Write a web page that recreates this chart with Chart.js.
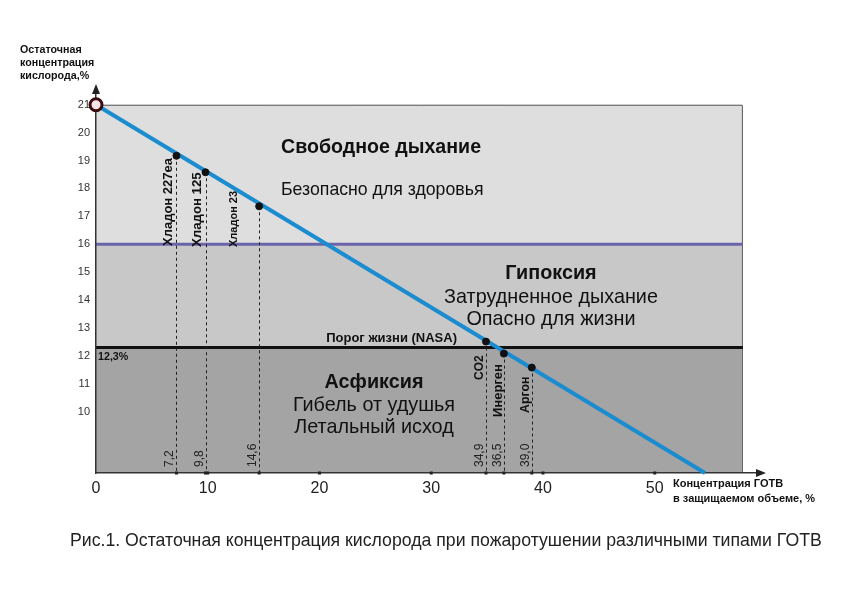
<!DOCTYPE html>
<html>
<head>
<meta charset="utf-8">
<script src="https://cdn.jsdelivr.net/npm/chart.js@4"></script>
<style>
html,body{margin:0;padding:0;background:#fff;}
#wrap{position:relative;width:842px;height:595px;}
canvas{display:block;}
</style>
</head>
<body>
<div id="wrap"><canvas id="c" width="842" height="595"></canvas></div>
<script>
// ---- data ----
const agents = ['Хладон 227ea', 'Хладон 125', 'Хладон 23', 'CO2', 'Инерген', 'Аргон'];
const agentConc = [7.2, 9.8, 14.6, 34.9, 36.5, 39.0];
const agentConcLabels = ['7,2', '9,8', '14,6', '34,9', '36,5', '39,0'];
const agentO2 = [19.17, 18.58, 17.36, 12.51, 12.08, 11.58];
const lineConc = [0, 54.5];
const lineO2 = [21, 7.8];
const xTicks = [0, 10, 20, 30, 40, 50];
const yTicks = [10, 11, 12, 13, 14, 15, 16, 17, 18, 19, 20, 21];
const zoneBounds = [21, 16, 12.3, 7.8];   // free breathing / hypoxia / asphyxia
const zoneRightConc = 57.8;
const nasaThreshold = 12.3;
const hypoxiaLimit = 16;

const FONT = '"Liberation Sans", Arial, sans-serif';

// label style offsets (pixels) relative to each agent point
const agentLabelStyle = [
  {dx: -4.5, y: 246, size: 13},
  {dx: -5, y: 247, size: 13.2},
  {dx: -22, y: 247, size: 11},
  {dx: -3, y: 380, size: 12},
  {dx: -2, y: 417, size: 13},
  {dx: -3, y: 413, size: 12.4}
];

function vtext(ctx, text, x, y, font, color) {
  ctx.save();
  ctx.translate(x, y);
  ctx.rotate(-Math.PI / 2);
  ctx.font = font;
  ctx.fillStyle = color || '#111';
  ctx.textAlign = 'left';
  ctx.textBaseline = 'alphabetic';
  ctx.fillText(text, 0, 0);
  ctx.restore();
}

const decor = {
  id: 'decor',
  beforeDraw(chart) {
    const ctx = chart.ctx, xs = chart.scales.x, ys = chart.scales.y;
    const x0 = xs.getPixelForValue(0), x1 = xs.getPixelForValue(zoneRightConc);
    const colors = ['#dedede', '#c8c8c8', '#a4a4a4'];
    ctx.save();
    for (let i = 0; i < 3; i++) {
      const yt = ys.getPixelForValue(zoneBounds[i]), yb = ys.getPixelForValue(zoneBounds[i + 1]);
      ctx.fillStyle = colors[i];
      ctx.fillRect(x0, yt, x1 - x0, yb - yt);
    }
    // outline
    ctx.strokeStyle = '#555';
    ctx.lineWidth = 1;
    const yTop = ys.getPixelForValue(zoneBounds[0]), yBot = ys.getPixelForValue(zoneBounds[3]);
    ctx.beginPath();
    ctx.moveTo(x0, yTop + 0.5); ctx.lineTo(x1 + 0.5, yTop + 0.5); ctx.lineTo(x1 + 0.5, yBot);
    ctx.stroke();
    // hypoxia line
    let y16 = ys.getPixelForValue(hypoxiaLimit);
    ctx.strokeStyle = '#6c64aa'; ctx.lineWidth = 3;
    ctx.beginPath(); ctx.moveTo(x0, y16); ctx.lineTo(x1 + 1, y16); ctx.stroke();
    // NASA line
    let yN = ys.getPixelForValue(nasaThreshold);
    ctx.strokeStyle = '#111'; ctx.lineWidth = 3;
    ctx.beginPath(); ctx.moveTo(x0, yN); ctx.lineTo(x1 + 1, yN); ctx.stroke();
    // drop lines
    ctx.strokeStyle = '#222'; ctx.lineWidth = 1; ctx.setLineDash([3, 3]);
    for (let i = 0; i < agentConc.length; i++) {
      const px = Math.round(xs.getPixelForValue(agentConc[i])) + 0.5;
      ctx.beginPath(); ctx.moveTo(px, ys.getPixelForValue(agentO2[i])); ctx.lineTo(px, yBot); ctx.stroke();
    }
    ctx.restore();
  },
  afterDraw(chart) {
    const ctx = chart.ctx, xs = chart.scales.x, ys = chart.scales.y;
    const x0 = xs.getPixelForValue(0);
    const yBot = ys.getPixelForValue(zoneBounds[3]);
    const left = chart.chartArea.left, top = chart.chartArea.top, right = chart.chartArea.right, bottom = chart.chartArea.bottom;
    ctx.save();
    // arrows
    ctx.fillStyle = '#222';
    ctx.beginPath(); ctx.moveTo(left, top - 4); ctx.lineTo(left - 4, top + 6); ctx.lineTo(left + 4, top + 6); ctx.closePath(); ctx.fill();
    ctx.beginPath(); ctx.moveTo(right + 4, bottom); ctx.lineTo(right - 6, bottom - 4); ctx.lineTo(right - 6, bottom + 4); ctx.closePath(); ctx.fill();
    // axis dots
    const dots = xTicks.slice(1).concat(agentConc);
    dots.forEach(v => { const px = xs.getPixelForValue(v); ctx.fillRect(px - 1.5, bottom - 1.5, 3, 3); });

    // agent labels
    for (let i = 0; i < agents.length; i++) {
      const px = xs.getPixelForValue(agentConc[i]);
      const st = agentLabelStyle[i];
      vtext(ctx, agents[i], px + st.dx, st.y, 'bold ' + st.size + 'px ' + FONT, '#111');
      vtext(ctx, agentConcLabels[i], px - 3, yBot - 6, '12px ' + FONT, '#222');
    }

    ctx.fillStyle = '#111';
    ctx.textBaseline = 'middle';
    ctx.textAlign = 'left';
    ctx.font = 'bold 19.6px ' + FONT;
    ctx.fillText('Свободное дыхание', 281, 148);
    ctx.font = '17.7px ' + FONT;
    ctx.fillText('Безопасно для здоровья', 281, 190);

    ctx.textAlign = 'center';
    ctx.font = 'bold 19.8px ' + FONT;
    ctx.fillText('Гипоксия', 551, 274);
    ctx.font = '19.8px ' + FONT;
    ctx.fillText('Затрудненное дыхание', 551, 298);
    ctx.fillText('Опасно для жизни', 551, 320);

    ctx.font = 'bold 19.8px ' + FONT;
    ctx.fillText('Асфиксия', 374, 383);
    ctx.font = '19.8px ' + FONT;
    ctx.fillText('Гибель от удушья', 374, 406);
    ctx.fillText('Летальный исход', 374, 428);

    ctx.textAlign = 'right';
    ctx.font = 'bold 13px ' + FONT;
    ctx.fillText('Порог жизни (NASA)', 457, 338);
    ctx.textAlign = 'left';
    ctx.font = 'bold 10.7px ' + FONT;
    ctx.fillText('12,3%', x0 + 2, 357);

    // axis titles
    ctx.font = 'bold 10.7px ' + FONT;
    ctx.fillText('Остаточная', 20, 50);
    ctx.fillText('концентрация', 20, 63);
    ctx.fillText('кислорода,%', 20, 76);
    ctx.font = 'bold 11px ' + FONT;
    ctx.fillText('Концентрация ГОТВ', 673, 484);
    ctx.fillText('в защищаемом объеме, %', 673, 499);

    // caption
    ctx.font = '17.7px ' + FONT;
    ctx.fillStyle = '#222';
    ctx.fillText('Рис.1. Остаточная концентрация кислорода при пожаротушении различными типами ГОТВ', 70, 541);
    ctx.restore();
  }
};

new Chart(document.getElementById('c'), {
  type: 'scatter',
  data: {
    datasets: [
      {
        data: lineConc.map((x, i) => ({x, y: lineO2[i]})),
        showLine: true,
        borderColor: '#1b8ccf',
        borderWidth: 4,
        pointRadius: 0,
        clip: false,
        order: 3
      },
      {
        data: agentConc.map((x, i) => ({x, y: agentO2[i]})),
        backgroundColor: '#111',
        borderColor: '#111',
        pointRadius: 3.5,
        clip: false,
        order: 2
      },
      {
        data: [{x: lineConc[0], y: lineO2[0]}],
        backgroundColor: '#f6e6ea',
        borderColor: '#3a0c10',
        borderWidth: 3,
        pointRadius: 6,
        clip: false,
        order: 1
      }
    ]
  },
  options: {
    responsive: false,
    animation: false,
    events: [],
    layout: {padding: {left: 0, right: 80, top: 88, bottom: 0}},
    plugins: {legend: {display: false}, tooltip: {enabled: false}},
    scales: {
      x: {
        type: 'linear', min: 0, max: 59.6,
        afterBuildTicks: s => { s.ticks = xTicks.map(v => ({value: v})); },
        afterFit: s => { s.height = 122; },
        grid: {display: false, drawTicks: false},
        border: {display: true, color: '#333', width: 1.5},
        ticks: {padding: 6, color: '#222', font: {size: 16, family: FONT}, maxRotation: 0, autoSkip: false}
      },
      y: {
        type: 'linear', min: 7.8, max: 21.6,
        afterBuildTicks: s => { s.ticks = yTicks.map(v => ({value: v})); },
        afterFit: s => { s.width = 96; },
        grid: {display: false, drawTicks: false},
        border: {display: true, color: '#333', width: 1.5},
        ticks: {padding: 6, color: '#333', font: {size: 11, family: FONT}, autoSkip: false}
      }
    }
  },
  plugins: [decor]
});
</script>
</body>
</html>
